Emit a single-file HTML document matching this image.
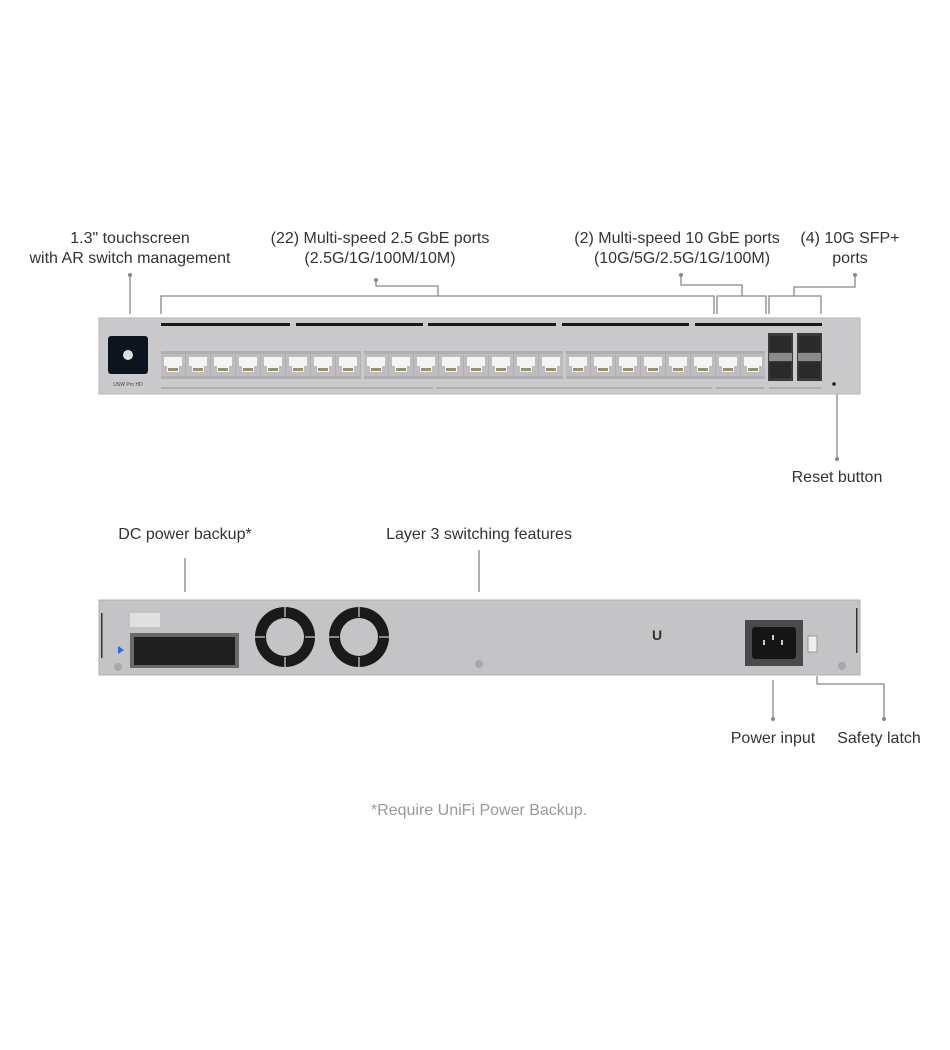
<!DOCTYPE html>
<html><head><meta charset="utf-8"><style>
body{margin:0;background:#fff;width:950px;height:1050px;overflow:hidden}
svg{display:block}
text{font-family:"Liberation Sans",sans-serif;font-size:16px;fill:#333}
</style></head><body>
<svg width="950" height="1050" viewBox="0 0 950 1050">
<defs>
<g id="rj">
<rect x="0" y="0" width="24" height="22" fill="#bdbdbf"/>
<path d="M3 3h18v9h-3v6h-12v-6h-3z" fill="#f4f4f4"/>
<rect x="7" y="14" width="10" height="3" fill="#9a8f70"/>
</g>
<g id="sfp">
<rect x="0" y="0" width="25" height="48" fill="#3a3a3c"/>
<rect x="2" y="3" width="21" height="16" fill="#2a2a2a"/>
<rect x="2" y="29" width="21" height="16" fill="#2a2a2a"/>
<rect x="1" y="20" width="23" height="8" fill="#8a8a8c"/>
</g>
</defs>
<!-- labels -->
<text x="130" y="243" text-anchor="middle">1.3" touchscreen</text>
<text x="130" y="263" text-anchor="middle">with AR switch management</text>
<text x="380" y="243" text-anchor="middle">(22) Multi-speed 2.5 GbE ports</text>
<text x="380" y="263" text-anchor="middle">(2.5G/1G/100M/10M)</text>
<text x="677" y="243" text-anchor="middle">(2) Multi-speed 10 GbE ports</text>
<text x="682" y="263" text-anchor="middle">(10G/5G/2.5G/1G/100M)</text>
<text x="850" y="243" text-anchor="middle">(4) 10G SFP+</text>
<text x="850" y="263" text-anchor="middle">ports</text>
<text x="837" y="482" text-anchor="middle">Reset button</text>
<text x="185" y="539" text-anchor="middle">DC power backup*</text>
<text x="479" y="539" text-anchor="middle">Layer 3 switching features</text>
<text x="773" y="743" text-anchor="middle">Power input</text>
<text x="879" y="743" text-anchor="middle">Safety latch</text>
<text x="479" y="815" text-anchor="middle" style="fill:#999">*Require UniFi Power Backup.</text>
<!-- connectors -->
<g stroke="#888" stroke-width="1.3" fill="none">
<path d="M130 276V314"/>
<path d="M376 281V286H438V296"/>
<path d="M161 314V296H714V314"/>
<path d="M681 276V285H742V296"/>
<path d="M717 314V296H766V314"/>
<path d="M855 276V287H794V296"/>
<path d="M769 314V296H821V314"/>
<path d="M837 392V458"/>
<path d="M185 558V592"/>
<path d="M479 550V592"/>
<path d="M773 680V718"/>
<path d="M817 676V684H884V718"/>
</g>
<g fill="#888">
<circle cx="130" cy="275" r="2"/><circle cx="376" cy="280" r="2"/><circle cx="681" cy="275" r="2"/><circle cx="855" cy="275" r="2"/>
<circle cx="837" cy="459" r="2"/><circle cx="773" cy="719" r="2"/><circle cx="884" cy="719" r="2"/>
</g>
<!-- front panel -->
<rect x="99" y="318" width="761" height="76" fill="#cacacc" stroke="#b5b5b7"/>
<g fill="#1a1a1a">
<rect x="161" y="323" width="129" height="3"/><rect x="296" y="323" width="127" height="3"/><rect x="428" y="323" width="128" height="3"/><rect x="562" y="323" width="127" height="3"/><rect x="695" y="323" width="127" height="3"/>
</g>
<rect x="108" y="336" width="40" height="38" rx="3" fill="#0d1420"/>
<circle cx="128" cy="355" r="5" fill="#ddd"/>
<text x="128" y="386" text-anchor="middle" style="font-size:5px;fill:#444">USW Pro HD</text>
<g fill="#b0b0b2">
<rect x="161" y="351" width="200" height="28"/><rect x="364" y="351" width="199" height="28"/><rect x="566" y="351" width="199" height="28"/>
<rect x="161" y="387" width="272" height="2"/><rect x="436" y="387" width="276" height="2"/><rect x="716" y="387" width="48" height="2"/><rect x="769" y="387" width="53" height="2"/>
</g>
<g>
<use href="#rj" x="161" y="354"/><use href="#rj" x="186" y="354"/><use href="#rj" x="211" y="354"/><use href="#rj" x="236" y="354"/><use href="#rj" x="261" y="354"/><use href="#rj" x="286" y="354"/><use href="#rj" x="311" y="354"/><use href="#rj" x="336" y="354"/>
<use href="#rj" x="364" y="354"/><use href="#rj" x="389" y="354"/><use href="#rj" x="414" y="354"/><use href="#rj" x="439" y="354"/><use href="#rj" x="464" y="354"/><use href="#rj" x="489" y="354"/><use href="#rj" x="514" y="354"/><use href="#rj" x="539" y="354"/>
<use href="#rj" x="566" y="354"/><use href="#rj" x="591" y="354"/><use href="#rj" x="616" y="354"/><use href="#rj" x="641" y="354"/><use href="#rj" x="666" y="354"/><use href="#rj" x="691" y="354"/><use href="#rj" x="716" y="354"/><use href="#rj" x="741" y="354"/>
<use href="#sfp" x="768" y="333"/><use href="#sfp" x="797" y="333"/>
</g>
<circle cx="834" cy="384" r="1.8" fill="#222"/>
<!-- back panel -->
<rect x="99" y="600" width="761" height="75" fill="#c4c4c6" stroke="#b0b0b2"/>
<rect x="101" y="613" width="1.5" height="45" fill="#333"/><rect x="856" y="608" width="1.5" height="45" fill="#333"/>
<rect x="130" y="613" width="30" height="14" fill="#e0e0e0"/>
<rect x="130" y="633" width="109" height="35" fill="#6a6a6c"/>
<rect x="134" y="637" width="101" height="28" fill="#1f1f1f"/>
<path d="M118 646l6 4-6 4z" fill="#2a6fd8"/>
<circle cx="285" cy="637" r="30" fill="#1a1a1a"/><circle cx="285" cy="637" r="19" fill="#c4c4c6"/>
<circle cx="359" cy="637" r="30" fill="#1a1a1a"/><circle cx="359" cy="637" r="19" fill="#c4c4c6"/>
<g stroke="#888" stroke-width="2"><path d="M285 607v10M285 657v10M255 637h10M305 637h10M359 607v10M359 657v10M329 637h10M379 637h10"/></g>
<g fill="#a8a8aa"><circle cx="118" cy="667" r="4"/><circle cx="479" cy="664" r="4"/><circle cx="842" cy="666" r="4"/></g>
<text x="652" y="640" style="font-size:14px;fill:#333;font-weight:bold">U</text>
<rect x="745" y="620" width="58" height="46" fill="#4a4a4c"/>
<rect x="752" y="627" width="44" height="32" rx="3" fill="#151515"/>
<g fill="#ccc"><rect x="763" y="640" width="2" height="5"/><rect x="772" y="635" width="2" height="5"/><rect x="781" y="640" width="2" height="5"/></g>
<rect x="808" y="636" width="9" height="16" fill="#eee" stroke="#999"/>
</svg>
</body></html>
